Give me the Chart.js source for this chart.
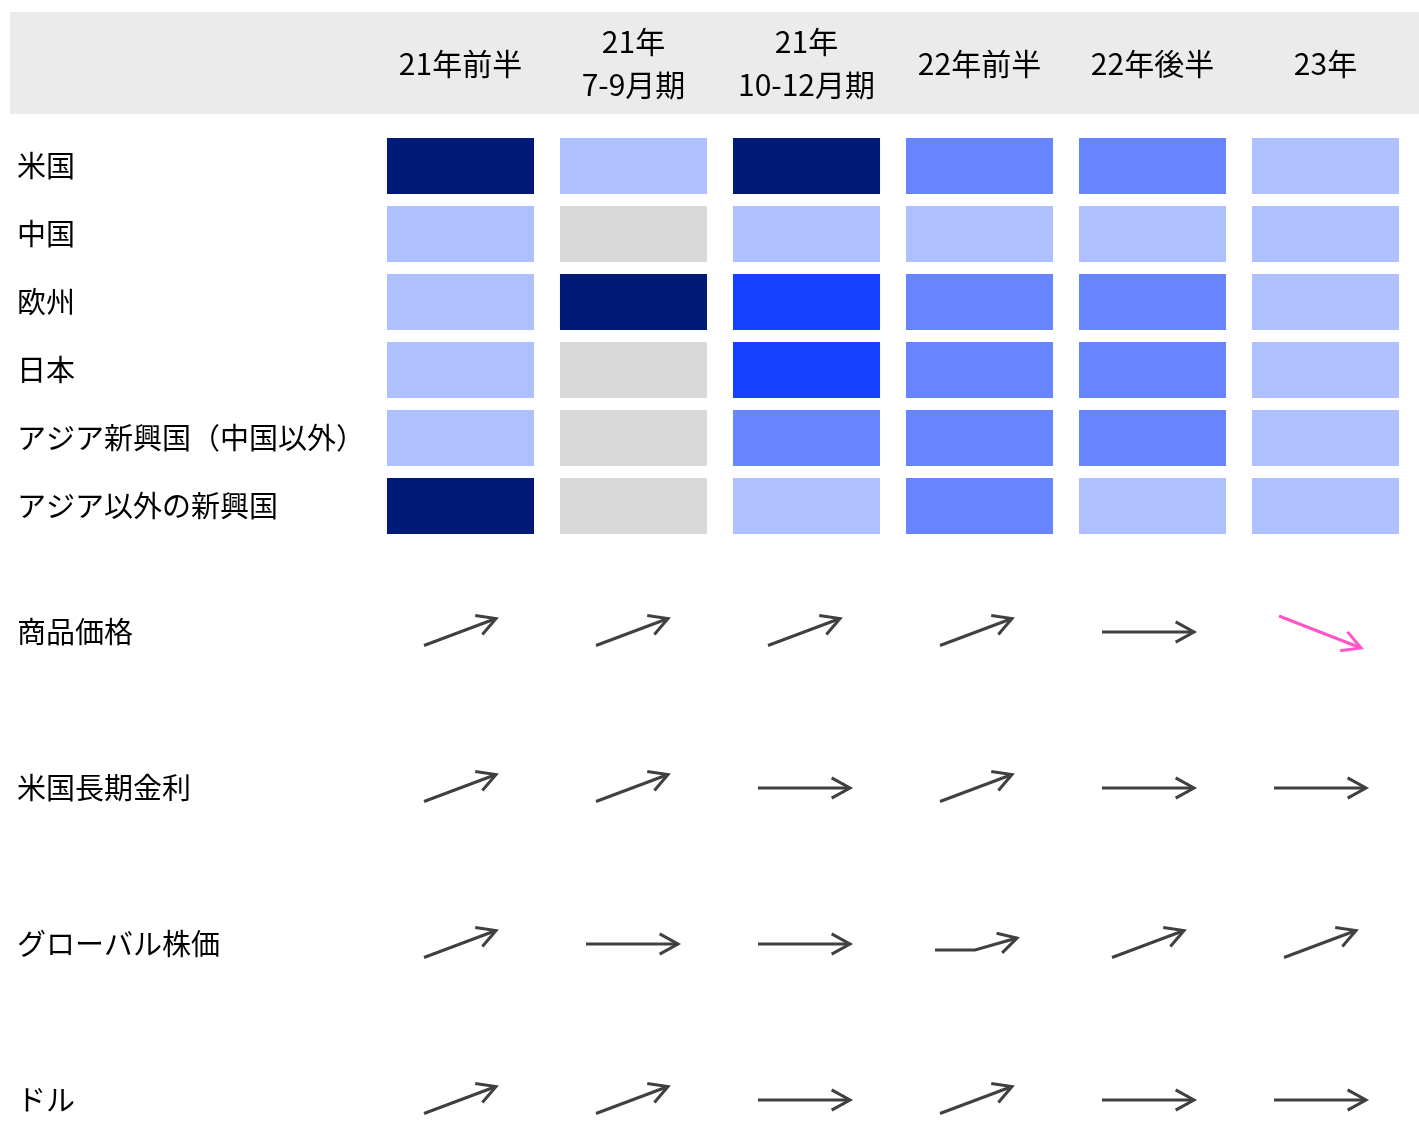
<!DOCTYPE html>
<html lang="ja">
<head>
<meta charset="utf-8">
<title>景気・市場見通し</title>
<script src="https://cdn.jsdelivr.net/npm/chart.js@4.4.1/dist/chart.umd.min.js"></script>
<style>
  html, body { margin: 0; padding: 0; background: #fff; }
  #wrap { width: 1419px; }
  canvas { display: block; }
</style>
</head>
<body>
<div id="wrap">
  <div style="height:545px"><canvas id="heatChart"></canvas></div>
  <div style="height:579px"><canvas id="trendChart"></canvas></div>
</div>
<script>
// columns (header tick labels)
const periods = ['21年前半', ['21年', '7-9月期'], ['21年', '10-12月期'], '22年前半', '22年後半', '23年'];
const periodKeys = periods.map(p => [].concat(p).join(''));

// heatmap rows: 0 = neutral, 1 = light, 2 = medium, 3 = strong, 4 = strongest
const regions = ['米国', '中国', '欧州', '日本', 'アジア新興国（中国以外）', 'アジア以外の新興国'];
const usLevels    = [4, 1, 4, 2, 2, 1];
const chinaLevels = [1, 0, 1, 1, 1, 1];
const euroLevels  = [1, 4, 3, 2, 2, 1];
const japanLevels = [1, 0, 3, 2, 2, 1];
const asiaLevels  = [1, 0, 2, 2, 2, 1];
const emLevels    = [4, 0, 1, 2, 1, 1];
const regionLevels = [usLevels, chinaLevels, euroLevels, japanLevels, asiaLevels, emLevels];

// arrow rows: 1 = up, 0 = flat, -1 = down, 2 = flat then up
const indicators = ['商品価格', '米国長期金利', 'グローバル株価', 'ドル'];
const commodityTrend = [1, 1, 1, 1, 0, -1];
const yieldTrend     = [1, 1, 0, 1, 0, 0];
const equityTrend    = [1, 0, 0, 2, 1, 1];
const dollarTrend    = [1, 1, 0, 1, 0, 0];
const indicatorTrends = [commodityTrend, yieldTrend, equityTrend, dollarTrend];

const levelColors = ['#d9d9d9', '#afc0ff', '#6685ff', '#1441ff', '#001a78'];
const fontFamily = '"Noto Sans CJK JP", "Noto Sans", sans-serif';

Chart.defaults.font.family = fontFamily;
Chart.defaults.color = '#000';

// arrow glyphs used as point styles
function makeArrow(points, color) {
  const c = document.createElement('canvas');
  c.width = 110;
  c.height = 50;
  const g = c.getContext('2d');
  g.translate(55, 25);
  g.strokeStyle = color;
  g.lineWidth = 3;
  g.lineCap = 'butt';
  g.lineJoin = 'miter';
  g.beginPath();
  g.moveTo(points[0][0], points[0][1]);
  points.slice(1).forEach(p => g.lineTo(p[0], p[1]));
  g.stroke();
  const [tx, ty] = points[points.length - 1];
  const [px, py] = points[points.length - 2];
  const back = Math.atan2(py - ty, px - tx);
  const arm = 21, spread = 29 * Math.PI / 180;
  g.beginPath();
  g.moveTo(tx + arm * Math.cos(back + spread), ty + arm * Math.sin(back + spread));
  g.lineTo(tx, ty);
  g.lineTo(tx + arm * Math.cos(back - spread), ty + arm * Math.sin(back - spread));
  g.stroke();
  return c;
}

const arrowStyles = {
  '1': makeArrow([[-36, 13.5], [36, -13.5]], '#404040'),
  '0': makeArrow([[-46, 0], [46, 0]], '#404040'),
  '-1': makeArrow([[-41, -16], [41, 16]], '#ff55c8'),
  '2': makeArrow([[-41, 6], [-1, 6], [41, -6]], '#404040')
};

const headerBand = {
  id: 'headerBand',
  beforeDraw(chart) {
    const s = chart.scales.x;
    const ctx = chart.ctx;
    ctx.save();
    ctx.fillStyle = '#ebebeb';
    ctx.fillRect(10, s.top, chart.width - 10, 102);
    ctx.restore();
  }
};

new Chart(document.getElementById('heatChart'), {
  type: 'bar',
  data: {
    labels: periods,
    datasets: regions.map((name, r) => ({
      label: name,
      data: periods.map(() => [r - 0.41, r + 0.41]),
      backgroundColor: regionLevels[r].map(l => levelColors[l]),
      borderWidth: 0,
      grouped: false,
      barPercentage: 0.85,
      categoryPercentage: 1
    }))
  },
  options: {
    responsive: true,
    maintainAspectRatio: false,
    animation: false,
    events: [],
    layout: { padding: { left: 17, right: 7, top: 12, bottom: 5 } },
    plugins: { legend: { display: false }, tooltip: { enabled: false } },
    scales: {
      x: {
        position: 'top',
        offset: true,
        grid: { display: false, drawTicks: false },
        border: { display: false },
        afterFit: s => { s.height = 120; },
        ticks: {
          autoSkip: false,
          maxRotation: 0,
          crossAlign: 'center',
          padding: 47,
          color: '#000',
          font: { size: 30, lineHeight: 1.45 }
        }
      },
      y: {
        type: 'linear',
        reverse: true,
        min: -0.5,
        max: 5.5,
        grid: { display: false, drawTicks: false },
        border: { display: false },
        afterFit: s => { s.width = 357; s.paddingTop = 0; s.paddingBottom = 0; },
        afterBuildTicks: s => { s.ticks = regions.map((_, i) => ({ value: i })); },
        ticks: {
          crossAlign: 'far',
          color: '#000',
          font: { size: 29 },
          callback: v => regions[v]
        }
      }
    }
  },
  plugins: [headerBand]
});

new Chart(document.getElementById('trendChart'), {
  type: 'line',
  data: {
    labels: periodKeys,
    datasets: indicators.map((name, r) => ({
      label: name,
      data: periodKeys.map(() => name),
      showLine: false,
      clip: false,
      pointRadius: 12,
      pointStyle: ctx => arrowStyles[String(indicatorTrends[r][ctx.dataIndex])]
    }))
  },
  options: {
    responsive: true,
    maintainAspectRatio: false,
    animation: false,
    events: [],
    layout: { padding: { left: 17, right: 7, top: 87, bottom: 24 } },
    plugins: { legend: { display: false }, tooltip: { enabled: false } },
    scales: {
      x: { type: 'category', offset: true, display: false },
      y: {
        type: 'category',
        labels: indicators,
        offset: false,
        grid: { display: false, drawTicks: false },
        border: { display: false },
        afterFit: s => { s.width = 357; },
        ticks: { crossAlign: 'far', color: '#000', font: { size: 29 } }
      }
    }
  }
});
</script>
</body>
</html>
